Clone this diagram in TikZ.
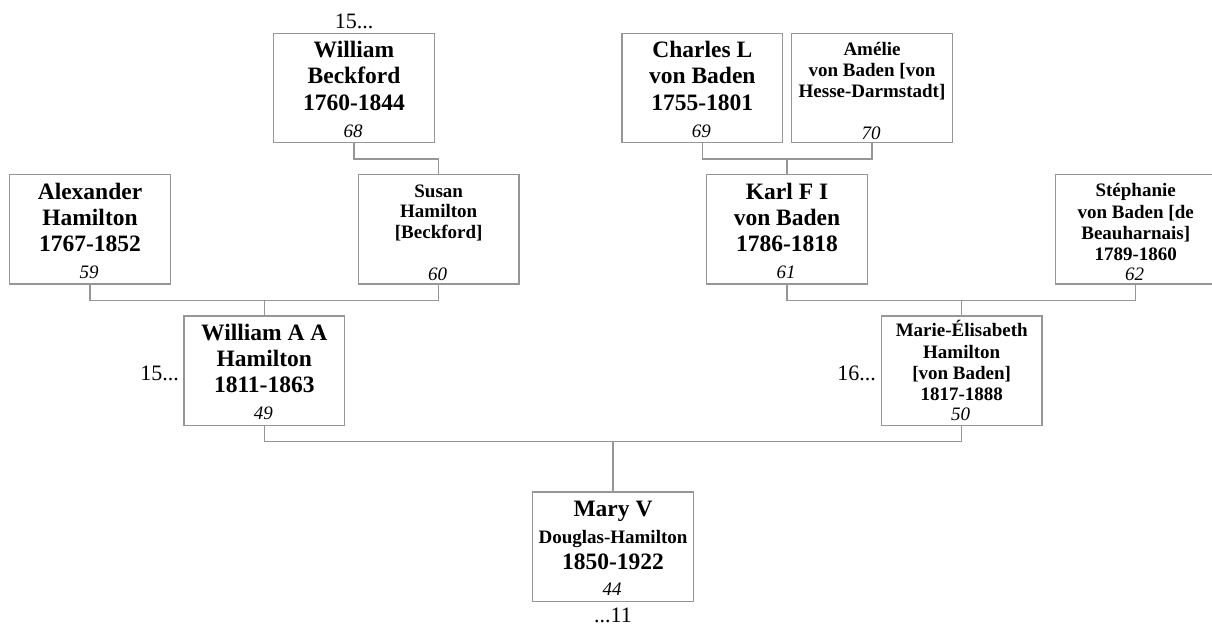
\documentclass[tikz,border=0pt]{standalone}
\usepackage{fontspec}
\setmainfont{Liberation Serif}
\definecolor{linegray}{RGB}{150,150,150}
\newcommand\pline[4]{\node[#1] (#2) at (#3) {#4};}
\begin{document}
\begin{tikzpicture}[x=1pt,y=-1pt,
  box/.style={draw=linegray,line width=1.3pt,minimum width=160.5pt,minimum height=109.5pt,inner sep=0pt},
  con/.style={draw=linegray,line width=1.3pt},
  big/.style={font=\fontsize{23.5}{26}\selectfont\bfseries,anchor=base,inner sep=0pt},
  small/.style={font=\fontsize{19}{21}\selectfont\bfseries,anchor=base,inner sep=0pt},
  num/.style={font=\fontsize{19}{21}\selectfont\itshape,anchor=base,inner sep=0pt},
  lbl/.style={font=\fontsize{22}{24}\selectfont,anchor=base,inner sep=0pt}]
\useasboundingbox (0,0) rectangle (1212,627);

% boxes
\node[box] (beck) at (354,88) {};
\node[box] (charles) at (702.3,88) {};
\node[box] (amelie) at (872,88) {};
\node[box] (alex) at (90,229.2) {};
\node[box] (susan) at (438.7,229.2) {};
\node[box] (karl) at (787,229.2) {};
\node[box] (steph) at (1135.7,229.2) {};
\node[box] (waaa) at (264.3,370.7) {};
\node[box] (marie) at (961.7,370.7) {};
\node[box] (mary) at (613,546.7) {};

% William Beckford
\pline{big}{beck1}{354,57}{William}
\pline{big}{beck2}{354,83}{Beckford}
\pline{big}{beck3}{354,110}{1760-1844}
\pline{num}{beck4}{353,137}{68}
% Charles
\pline{big}{charles1}{702.3,57}{Charles L}
\pline{big}{charles2}{702.3,83}{von Baden}
\pline{big}{charles3}{702.3,110}{1755-1801}
\pline{num}{charles4}{701.3,137}{69}
% Amelie
\pline{small}{amelie1}{872,55}{Amélie}
\pline{small}{amelie2}{872,76}{von Baden [von}
\pline{small}{amelie3}{872,97}{Hesse-Darmstadt]}
\pline{num}{amelie4}{871,139}{70}
% Alexander
\pline{big}{alex1}{90,199}{Alexander}
\pline{big}{alex2}{90,225}{Hamilton}
\pline{big}{alex3}{90,251}{1767-1852}
\pline{num}{alex4}{89,278}{59}
% Susan
\pline{small}{susan1}{438.7,197}{Susan}
\pline{small}{susan2}{438.7,217}{Hamilton}
\pline{small}{susan3}{438.7,238}{[Beckford]}
\pline{num}{susan4}{437.7,280}{60}
% Karl
\pline{big}{karl1}{787,199}{Karl F I}
\pline{big}{karl2}{787,225}{von Baden}
\pline{big}{karl3}{787,251}{1786-1818}
\pline{num}{karl4}{786,278}{61}
% Stephanie
\pline{small}{steph1}{1135.7,196.7}{Stéphanie}
\pline{small}{steph2}{1135.7,218}{von Baden [de}
\pline{small}{steph3}{1135.7,239.3}{Beauharnais]}
\pline{small}{steph4}{1135.7,260}{1789-1860}
\pline{num}{steph5}{1134.7,280}{62}
% William A A
\pline{big}{waaa1}{264.3,340}{William A A}
\pline{big}{waaa2}{264.3,366.7}{Hamilton}
\pline{big}{waaa3}{264.3,392.7}{1811-1863}
\pline{num}{waaa4}{263.3,419.3}{49}
% Marie-Elisabeth
\pline{small}{marie1}{961.7,336.7}{Marie-Élisabeth}
\pline{small}{marie2}{961.7,358.3}{Hamilton}
\pline{small}{marie3}{961.7,379}{[von Baden]}
\pline{small}{marie4}{961.7,400}{1817-1888}
\pline{num}{marie5}{960.7,420.7}{50}
% Mary
\pline{big}{mary1}{613,516}{Mary V}
\pline{small}{mary2}{613,543.3}{Douglas-Hamilton}
\pline{big}{mary3}{613,569.3}{1850-1922}
\pline{num}{mary4}{612,595}{44}

% outer labels
\node[lbl] (lbeck) at (354,28) {15...};
\node[lbl,anchor=base east] (lwaaa) at (179,380) {15...};
\node[lbl,anchor=base east] (lmarie) at (876,380) {16...};
\node[lbl] (lmary) at (613,622.7) {...11};

% connectors
\draw[con] (beck.south) -- ++(0,15.6) -| (susan.north);
\draw[con] (charles.south) -- ++(0,15.6) coordinate (c0) -| (amelie.south);
\draw[con] (c0 -| karl.north) -- (karl.north);
\draw[con] (alex.south) -- ++(0,15.7) coordinate (c1) -| (susan.south);
\draw[con] (c1 -| waaa.north) -- (waaa.north);
\draw[con] (karl.south) -- ++(0,15.7) coordinate (c2) -| (steph.south);
\draw[con] (c2 -| marie.north) -- (marie.north);
\draw[con] (waaa.south) -- ++(0,15.7) coordinate (c3) -| (marie.south);
\draw[con] (c3 -| mary.north) -- (mary.north);
\end{tikzpicture}
\end{document}
